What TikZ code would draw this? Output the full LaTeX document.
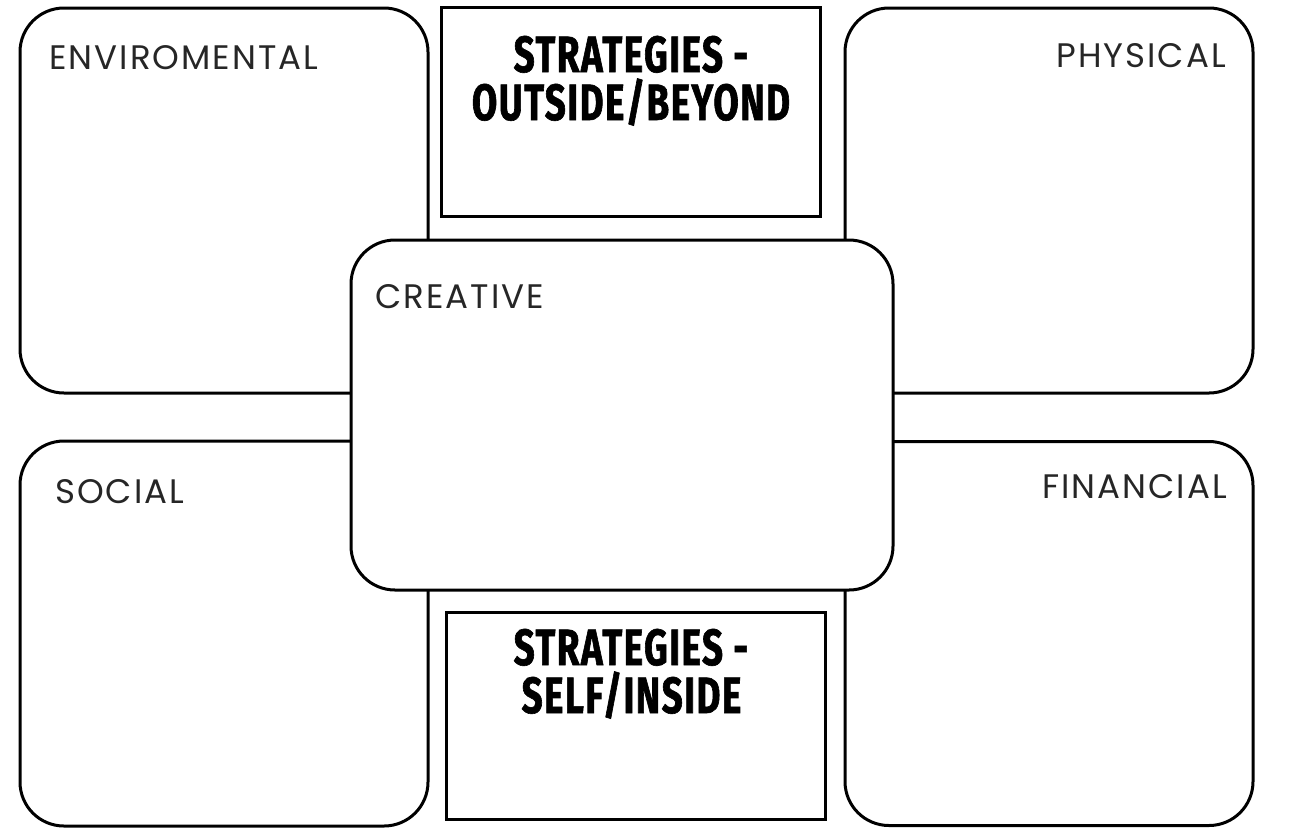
\documentclass[tikz,border=0pt]{standalone}
\usepackage{fontspec}
\setmainfont{Poppins}[LetterSpace=6]
\newfontfamily\headfont[FakeStretch=0.72,FakeBold=1.2,LetterSpace=3]{Fira Sans}
\begin{document}
\begin{tikzpicture}[x=1pt,y=-1pt,
  rbox/.style={draw=black,line width=3pt,rounded corners=44pt,fill=white,inner sep=0pt,outer sep=0pt},
  sbox/.style={draw=black,line width=3pt,fill=white,inner sep=0pt,outer sep=0pt},
  lab/.style={inner sep=0pt,font=\fontsize{34}{36}\selectfont,text=black!85},
  head/.style={inner sep=0pt,anchor=base,font=\headfont\bfseries\fontsize{51}{54}\selectfont}]
\useasboundingbox (0,0) rectangle (1289,839);
\fill[white] (0,0) rectangle (1289,839);
% corner boxes
\node[rbox,minimum width=408pt,minimum height=385pt] (env) at (224,200.5) {};
\node[rbox,minimum width=408pt,minimum height=385pt] (phy) at (1049,200.5) {};
\node[rbox,minimum width=408pt,minimum height=385pt] (soc) at (224,633.5) {};
\node[rbox,minimum width=408pt,minimum height=384pt] (fin) at (1049,633.5) {};
% centre
\node[rbox,minimum width=542pt,minimum height=350pt] (cre) at (622,415) {};
% strategy boxes
\node[sbox,minimum width=379pt,minimum height=209pt] (top) at (631,112) {};
\node[sbox,minimum width=379pt,minimum height=207pt] (bot) at (636,715.5) {};
% labels
\node[lab,anchor=base west] (envl) at (49,69) {ENVIROMENTAL};
\node[lab,anchor=base east] (phyl) at (1226,67) {PHYSICAL};
\node[lab,anchor=base west] (crel) at (375,308) {CREATIVE};
\node[lab,anchor=base west] (socl) at (55,503) {SOCIAL};
\node[lab,anchor=base east] (finl) at (1227,498) {FINANCIAL};
\node[head] (top1) at (631,72) {STRATEGIES -};
\node[head] (top2) at (631,120) {OUTSIDE/BEYOND};
\node[head] (bot1) at (631,665) {STRATEGIES -};
\node[head] (bot2) at (631.5,713) {SELF/INSIDE};
\end{tikzpicture}
\end{document}
